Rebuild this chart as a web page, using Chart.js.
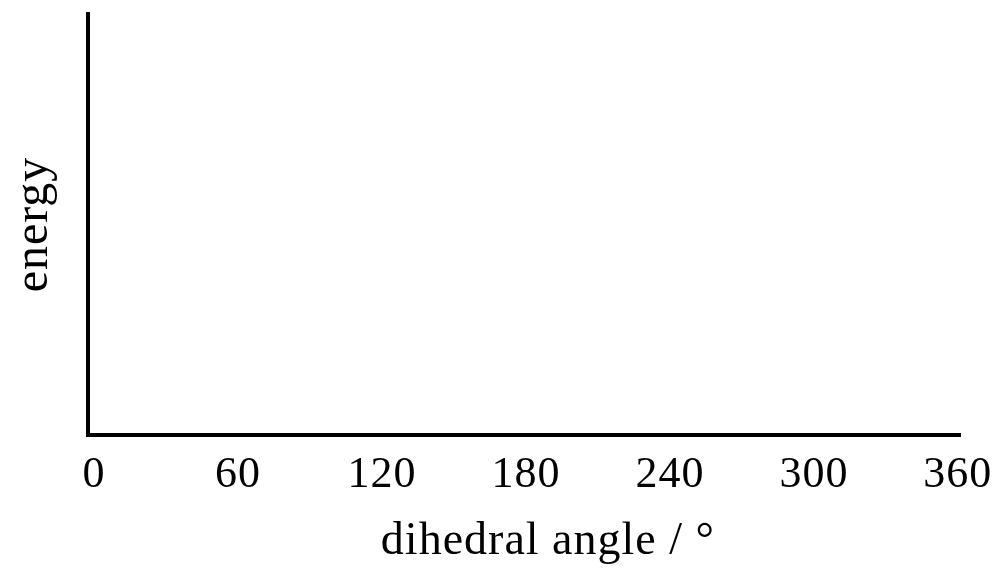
<!DOCTYPE html>
<html>
<head>
<meta charset="utf-8">
<script src="https://cdn.jsdelivr.net/npm/chart.js@4/dist/chart.umd.min.js"></script>
<style>
  html, body { margin: 0; padding: 0; background: #fff; }
  #wrap { width: 1005px; height: 570px; }
</style>
</head>
<body>
<div id="wrap"><canvas id="chart" width="1005" height="570"></canvas></div>
<script>
  // axis content (the plot itself is empty in the reference)
  const xTicks = [0, 60, 120, 180, 240, 300, 360];
  const xTitle = '\u2003dihedral angle / °';
  const yTitle = 'energy';
  const points = [];

  const serif = "'Liberation Serif', 'DejaVu Serif', serif";

  // the reference text is set a little loose
  const spacing = {
    id: 'spacing',
    beforeDraw: chart => { chart.ctx.letterSpacing = '1px'; }
  };

  new Chart(document.getElementById('chart'), {
    type: 'scatter',
    data: { datasets: [{ data: points, showLine: true, borderColor: '#000', pointRadius: 0 }] },
    plugins: [spacing],
    options: {
      responsive: false, animation: false,
      layout: { padding: { left: 0, right: 40, top: 14, bottom: 0 } },
      plugins: { legend: { display: false }, tooltip: { enabled: false } },
      scales: {
        x: {
          type: 'linear', min: -2.5, max: 361.2,
          afterBuildTicks: s => { s.ticks = xTicks.map(v => ({ value: v })); },
          afterFit: s => { s.height = 135; },
          grid: { display: false, drawTicks: false },
          border: { display: true, color: '#000', width: 4 },
          ticks: { color: '#000', font: { family: serif, size: 44 }, padding: 14, maxRotation: 0, autoSkip: false },
          title: { display: true, text: xTitle, color: '#000', font: { family: serif, size: 46 }, padding: { top: 0, bottom: 0 } }
        },
        y: {
          min: 0, max: 1,
          afterFit: s => { s.width = 88; },
          grid: { display: false, drawTicks: false },
          border: { display: true, color: '#000', width: 4 },
          ticks: { display: false },
          title: { display: true, text: yTitle, color: '#000', font: { family: serif, size: 48 }, padding: { top: 6, bottom: 0 } }
        }
      }
    }
  });
</script>
</body>
</html>
